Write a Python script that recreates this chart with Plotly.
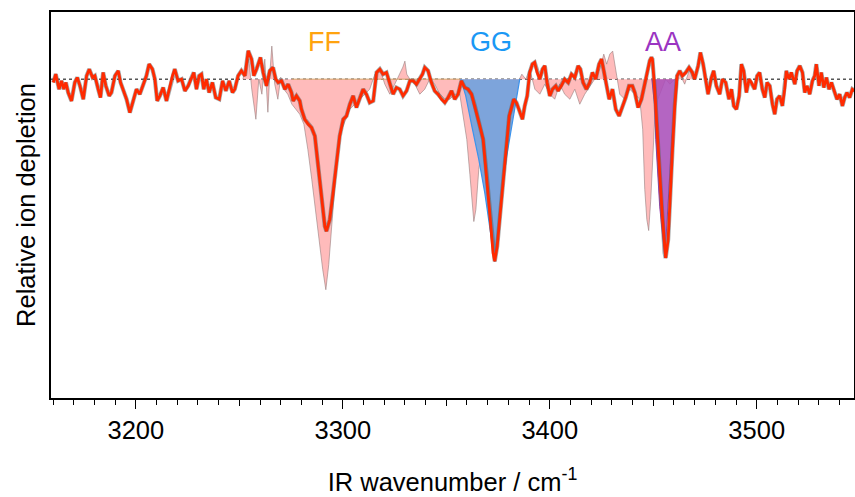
import plotly.graph_objects as go

# ---------------- data ----------------
# Experimental spectrum (red): wavenumber / cm-1 and relative depletion (arb. units, 0 = baseline)
red_wn = [
    3160.1, 3161.3, 3162.9, 3164.1, 3165.2, 3166.2, 3167.3, 3168.9, 3170.5, 3171.7,
    3173.0, 3174.6, 3176.2, 3177.5, 3179.1, 3180.2, 3181.8, 3182.9, 3184.2, 3185.5,
    3187.1, 3188.2, 3189.9, 3191.5, 3192.6, 3193.9, 3195.5, 3197.1, 3198.7, 3200.3,
    3201.9, 3203.5, 3205.1, 3206.4, 3208.0, 3209.2, 3210.3, 3211.6, 3213.2, 3214.8,
    3216.1, 3217.7, 3218.8, 3220.4, 3222.1, 3223.7, 3225.3, 3226.9, 3228.0, 3229.3,
    3230.6, 3231.7, 3232.8, 3234.1, 3235.4, 3237.0, 3238.6, 3240.3, 3241.9, 3243.5,
    3245.1, 3246.7, 3247.8, 3249.4, 3251.0, 3252.7, 3254.3, 3255.9, 3257.0, 3258.3,
    3260.2, 3261.5, 3263.1, 3264.7, 3266.3, 3267.6, 3268.8, 3270.4, 3272.0, 3273.6,
    3275.2, 3276.0, 3277.6, 3279.2, 3280.0, 3281.6, 3283.3, 3284.9, 3286.5, 3288.1,
    3289.7, 3291.3, 3292.1, 3293.7, 3295.3, 3296.9, 3298.5, 3300.2, 3301.8, 3303.4,
    3305.0, 3306.6, 3308.2, 3309.8, 3311.4, 3313.0, 3314.7, 3316.3, 3317.9, 3319.5,
    3321.1, 3322.7, 3324.3, 3325.9, 3327.5, 3329.1, 3330.8, 3332.4, 3334.0, 3335.6,
    3337.2, 3338.5, 3339.6, 3341.2, 3342.8, 3344.4, 3346.0, 3347.7, 3349.3, 3350.9,
    3352.5, 3354.1, 3355.7,
    3357.3, 3358.9, 3360.5, 3362.2, 3363.8, 3366.2, 3367.8, 3369.4, 3371.0, 3372.6,
    3373.4, 3374.6, 3375.8, 3377.5, 3379.1, 3380.4, 3381.5, 3382.6, 3383.9, 3385.5,
    3386.8, 3387.9, 3389.1, 3390.3, 3391.6, 3392.7, 3393.9, 3395.2, 3396.5, 3397.6,
    3398.7, 3400.0, 3401.3, 3402.9, 3404.0, 3405.6, 3407.2, 3408.9, 3410.5, 3412.1,
    3413.7, 3414.8, 3416.1, 3417.7, 3419.3, 3420.6, 3422.2, 3423.8, 3425.0, 3426.1,
    3427.4, 3428.7, 3430.3, 3431.9, 3433.5, 3435.1, 3436.7, 3438.3, 3439.9, 3441.1,
    3442.7, 3444.3, 3445.9, 3447.5,
    3448.3, 3449.1, 3449.6, 3450.7, 3451.8, 3453.1, 3454.4, 3455.5, 3456.0, 3457.2,
    3458.0, 3459.3, 3460.4, 3461.5, 3462.8, 3464.1, 3465.7, 3467.3, 3468.9,
    3470.0, 3471.7, 3472.8, 3474.1, 3475.4, 3476.5, 3478.1, 3479.2, 3480.5, 3482.1,
    3483.4, 3485.0, 3486.6, 3487.8, 3488.9, 3490.2, 3491.5, 3492.6, 3493.7, 3495.0,
    3496.3, 3497.4, 3499.0, 3500.2, 3501.4, 3502.7, 3503.9, 3505.0, 3506.3, 3507.6,
    3508.7, 3509.8, 3511.1, 3512.4, 3513.5, 3514.3, 3515.6, 3516.7, 3518.4, 3519.5,
    3520.8, 3522.1, 3523.2, 3524.3, 3525.6, 3526.9, 3528.0, 3528.8, 3530.1, 3531.2,
    3532.4, 3533.7, 3534.9, 3536.1, 3537.7, 3538.8, 3540.1, 3541.4, 3542.5, 3543.6,
    3544.9, 3546.2, 3547.3,
]
red_dep = [
    -0.10, 0.15, -0.30, -0.05, -0.30, -0.10, -0.40, -0.65, -0.10, 0.05,
    -0.20, -0.60, 0.10, 0.30, 0.05, 0.10, -0.30, -0.55, 0.20, -0.20,
    -0.50, -0.40, 0.10, 0.25, -0.10, -0.30, -0.60, -1.00, -0.65, -0.30,
    -0.45, -0.15, 0.10, 0.45, 0.30, 0.00, -0.65, -0.50, -0.25, -0.65,
    -0.30, 0.10, 0.30, -0.05, 0.00, -0.35, -0.20, 0.05, 0.20, -0.30,
    0.10, 0.15, -0.30, 0.00, -0.40, -0.10, -0.55, -0.60, -0.05, -0.35,
    -0.05, -0.40, -0.30, 0.10, 0.25, 0.10, 0.85, 0.60, 0.10, 0.30,
    0.65, 0.20, -0.20, 0.25, 0.35, 0.00, -0.10, -0.05, -0.30, -0.15,
    -0.40, -0.65, -0.50, -0.65, -0.90, -1.20, -1.35, -1.45, -1.70, -2.60,
    -3.50, -4.40, -4.55, -4.20, -3.40, -2.50, -1.70, -1.20, -1.10, -0.75,
    -0.50, -0.85, -0.55, -0.30, -0.45, -0.70, -0.65, 0.20, 0.30, 0.15,
    0.20, -0.10, -0.45, -0.25, -0.30, -0.50, -0.35, -0.05, -0.05, -0.15,
    0.00, 0.15, 0.35, 0.25, -0.10, -0.35, -0.45, -0.60, -0.70, -0.55,
    -0.35, -0.60, -0.45,
    -0.05, -0.25, -0.30, -0.45, -0.80, -1.40, -1.80, -2.80, -4.00, -5.20,
    -5.45, -5.00, -4.20, -3.00, -1.80, -1.10, -0.85, -0.60, -0.70, -0.95,
    -1.20, -0.80, -0.50, 0.20, 0.45, 0.50, 0.20, 0.00, 0.30, 0.40,
    -0.10, -0.50, -0.30, -0.20, -0.35, -0.20, 0.00, -0.10, 0.15, 0.05,
    0.40, 0.30, -0.10, -0.30, -0.10, 0.20, 0.00, 0.45, 0.60, 0.25,
    -0.20, -0.60, -0.30, -0.90, -1.10, -0.85, -0.55, -0.20, -0.20, -0.40,
    -0.85, -0.60, -0.10, 0.40,
    0.55, 0.65, 0.60, -0.30, -1.60, -2.80, -4.10, -5.20, -5.35, -4.80,
    -3.60, -2.10, -0.80, 0.10, 0.25, 0.10, 0.20, 0.35, 0.20,
    0.00, 0.40, 0.80, 0.45, -0.10, -0.45, 0.05, 0.25, -0.20, -0.45,
    0.00, -0.10, -0.60, -0.30, -0.80, -0.90, -0.50, 0.45, 0.25, -0.40,
    0.00, -0.10, -0.30, 0.10, 0.20, -0.30, -0.55, -0.10, -0.20, -0.75,
    -1.05, -0.60, -0.50, -0.80, -0.30, 0.25, 0.00, 0.20, -0.15, 0.25,
    0.40, 0.20, -0.40, -0.20, -0.45, -0.05, 0.10, 0.45, -0.20, 0.20,
    -0.25, 0.05, -0.30, -0.10, -0.40, -0.60, -0.45, -0.80, -0.55, -0.40,
    -0.55, -0.30, -0.35,
]

# Second spectrum (pink, filled to baseline)
pink_wn = [
    3251.7, 3253.1, 3254.6, 3256.0, 3258.0, 3259.4, 3260.9, 3262.3, 3263.8, 3264.7,
    3265.7, 3267.1, 3268.6, 3270.0, 3271.5, 3273.4, 3275.4, 3277.3, 3279.2, 3281.2,
    3283.1, 3285.0, 3287.0, 3288.9, 3290.3, 3291.8, 3293.2, 3294.7, 3296.1, 3297.6,
    3299.5, 3301.4, 3303.4, 3305.8, 3308.2, 3310.6, 3313.0, 3315.5, 3317.9, 3320.3,
    3322.7, 3325.1, 3327.5, 3329.0, 3330.0, 3330.9, 3332.4, 3334.8, 3337.2, 3339.6,
    3342.0, 3344.4, 3346.9, 3349.3, 3351.7, 3354.1, 3356.5, 3358.5, 3359.9, 3361.4,
    3362.3, 3363.3, 3364.3, 3365.7, 3367.1, 3369.1, 3371.0, 3372.9, 3374.9, 3376.8,
    3378.7, 3380.7, 3382.6, 3384.5, 3386.5, 3388.4, 3390.3, 3392.8, 3395.2, 3397.6,
    3400.0, 3402.4, 3404.8, 3407.2, 3409.7, 3412.1, 3414.5, 3416.9, 3419.3, 3421.7,
    3424.2, 3426.1, 3427.5, 3429.0, 3430.4, 3431.9, 3433.8, 3436.2, 3438.6, 3441.1,
    3443.5, 3444.9, 3445.9, 3446.9, 3447.8, 3448.8, 3449.8, 3450.7, 3452.2, 3454.1,
    3456.0, 3458.0, 3460.4, 3462.8, 3465.2, 3467.6, 3469.1, 3470.5,
]
pink_dep = [
    0.00, 0.30, 0.60, -0.30, -1.20, 0.00, -0.45, 0.60, -0.99, 0.15,
    0.99, -0.15, -0.60, 0.06, -0.30, -0.45, -0.75, -0.90, -1.05, -1.35,
    -2.10, -3.00, -4.05, -4.95, -5.70, -6.30, -5.55, -4.35, -3.15, -2.10,
    -1.50, -1.20, -0.90, -0.75, -0.60, -0.45, -0.30, 0.15, 0.30, -0.15,
    -0.45, -0.15, 0.15, 0.36, 0.54, 0.15, 0.00, -0.15, -0.45, -0.30,
    0.00, -0.15, -0.45, -0.60, -0.60, -0.45, -0.45, -1.20, -1.80, -2.85,
    -3.60, -4.26, -3.90, -2.70, -2.10, -1.80, -2.40, -4.80, -3.60, -2.40,
    -1.20, -0.60, -0.36, -0.15, 0.15, 0.00, 0.30, -0.30, -0.45, -0.15,
    -0.45, -0.60, -0.15, -0.45, -0.60, -0.30, -0.75, -0.45, -0.24, 0.00,
    0.30, 0.75, 0.45, 0.75, 0.84, 0.30, -0.45, -0.60, -0.30, -0.45,
    -0.60, -1.50, -3.30, -4.20, -4.53, -3.60, -2.10, -1.20, -0.60, -0.30,
    0.00, -0.15, 0.00, 0.15, -0.15, 0.30, 0.00, 0.00,
]

# GG band (blue)
gg_wn = [3357.0, 3359.4, 3362.3, 3365.7, 3368.6, 3371.0, 3373.4, 3375.4, 3376.8, 3379.2, 3381.6, 3383.6, 3385.5]
gg_dep = [0.00, -0.50, -1.40, -2.40, -3.40, -4.50, -5.46, -4.40, -3.40, -2.30, -1.40, -0.60, 0.00]

# AA band (purple)
aa_wn = [3449.3, 3450.7, 3451.2, 3453.1, 3455.6, 3457.0, 3459.0, 3460.9, 3461.8]
aa_dep = [0.00, -0.80, -1.80, -3.80, -5.35, -3.80, -1.80, -0.60, 0.00]

# Band labels
label_text = ["FF", "GG", "AA"]
label_wn = [3291.0, 3371.5, 3454.5]
label_dep = [1.11, 1.11, 1.11]
label_color = ["#FFA30F", "#1A98F5", "#9B35C2"]

# Axis
x_range = [3159.0, 3547.0]
y_range = [-9.54, 2.01]
major_ticks = [3200, 3300, 3400, 3500]
mid_ticks = [3250, 3350, 3450]

FONT = "Liberation Sans, Arial, Helvetica, sans-serif"

fig = go.Figure()

# pink spectrum filled to baseline
fig.add_trace(go.Scatter(
    x=pink_wn, y=pink_dep, mode="lines", fill="tozeroy",
    fillcolor="rgba(255,180,180,0.9)",
    line=dict(color="rgba(150,125,125,0.75)", width=0.8),
    hoverinfo="skip", showlegend=False,
))
# tan edge on the FF pink area at the baseline
fig.add_trace(go.Scatter(
    x=[pink_wn[16], gg_wn[0]], y=[0, 0], mode="lines",
    line=dict(color="#D6A46A", width=1), hoverinfo="skip", showlegend=False,
))
# GG band
fig.add_trace(go.Scatter(
    x=gg_wn, y=gg_dep, mode="lines", fill="tozeroy",
    fillcolor="#7DA4DB",
    line=dict(color="#3C93EC", width=1.2),
    hoverinfo="skip", showlegend=False,
))
# AA band
fig.add_trace(go.Scatter(
    x=aa_wn, y=aa_dep, mode="lines", fill="tozeroy",
    fillcolor="rgba(170,80,185,0.88)",
    line=dict(color="#9B3DB3", width=1),
    hoverinfo="skip", showlegend=False,
))
# shadow under red line
fig.add_trace(go.Scatter(
    x=red_wn, y=red_dep, mode="lines",
    line=dict(color="rgba(95,95,95,0.55)", width=4.2),
    hoverinfo="skip", showlegend=False,
))
# red experimental spectrum
fig.add_trace(go.Scatter(
    x=red_wn, y=red_dep, mode="lines",
    line=dict(color="#FF2A00", width=2.8),
    showlegend=False,
))
# invisible trace carrying the secondary (mid-tick) x axis
fig.add_trace(go.Scatter(
    x=x_range, y=[0, 0], xaxis="x2", yaxis="y", mode="lines",
    line=dict(width=0), hoverinfo="skip", showlegend=False,
))

for t, xw, yd, c in zip(label_text, label_wn, label_dep, label_color):
    fig.add_annotation(x=xw, y=yd, text=t, showarrow=False,
                       xanchor="center", yanchor="middle",
                       font=dict(family=FONT, size=27, color=c))

fig.add_shape(type="line", xref="paper", yref="y", x0=0, x1=1, y0=0, y1=0,
              line=dict(color="black", width=1, dash="dot"), layer="below")

fig.update_layout(
    template="none",
    width=855, height=497,
    margin=dict(l=51, r=1, t=12, b=99),
    paper_bgcolor="white", plot_bgcolor="white",
    font=dict(family=FONT, size=25.5, color="black"),
    showlegend=False,
    xaxis=dict(
        range=x_range, showline=True, linecolor="black", linewidth=1.5, mirror=True,
        showgrid=False, zeroline=False,
        ticks="outside", tickvals=major_ticks, ticktext=[str(v) for v in major_ticks],
        ticklen=9, tickwidth=1.2, tickcolor="black",
        tickfont=dict(family=FONT, size=25.5, color="black"),
        minor=dict(ticks="outside", dtick=10, tick0=3200, ticklen=5, tickwidth=1, tickcolor="black", showgrid=False),
        title=dict(text="IR wavenumber / cm<sup>-1</sup>", font=dict(family=FONT, size=25.5, color="black"), standoff=30),
    ),
    xaxis2=dict(
        range=x_range, overlaying="x", anchor="y", side="bottom", matches="x",
        showline=False, showgrid=False, zeroline=False, showticklabels=False,
        ticks="outside", tickvals=mid_ticks, ticklen=7, tickwidth=1.1, tickcolor="black",
    ),
    yaxis=dict(
        range=y_range, showline=True, linecolor="black", linewidth=1.5, mirror=True,
        showgrid=False, zeroline=False, showticklabels=False, ticks="",
        title=dict(text="Relative ion depletion", font=dict(family=FONT, size=25.5, color="black"), standoff=6),
    ),
)

fig.write_html("out.html", config={"displayModeBar": False},
               post_script="document.body.style.margin='0';")
